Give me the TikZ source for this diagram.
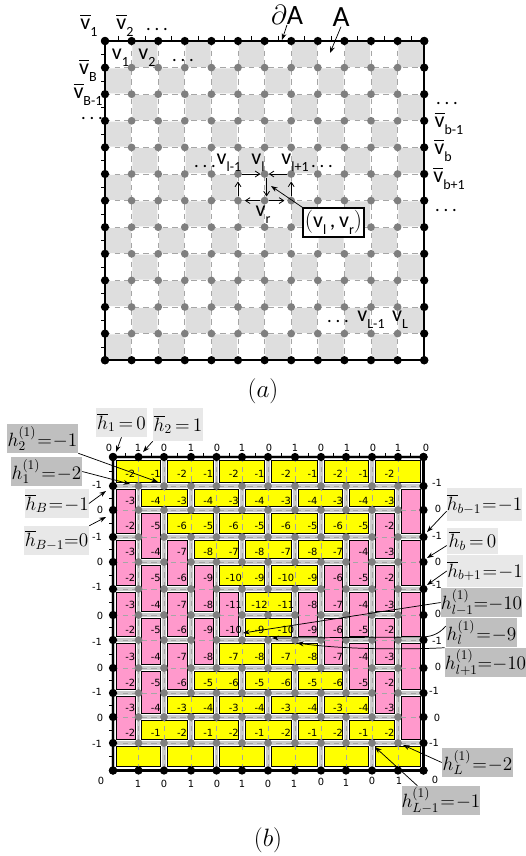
\documentclass[tikz,border=0pt]{standalone}
\usepackage[no-math]{fontspec}
\usetikzlibrary{arrows.meta,calc}
\newfontfamily\carl{Carlito}
\newfontfamily\numf{DejaVu Sans}
\definecolor{cellgray}{HTML}{DEDEDE}
\definecolor{dashgray}{HTML}{A6A6A6}
\definecolor{dotgray}{HTML}{7F7F7F}
\definecolor{bandgray}{HTML}{CBCBCB}
\definecolor{tileyellow}{HTML}{FFFF00}
\definecolor{tilepink}{HTML}{FF99CC}
\definecolor{lablight}{HTML}{E8E8E8}
\definecolor{labdark}{HTML}{BFBFBF}
\newcommand{\ovb}[1]{\makebox[0pt][l]{\raisebox{0.62em}{\rule{0.46em}{0.7pt}}}#1}
\newcommand{\sbs}[1]{\raisebox{-0.3em}{\fontsize{10.5pt}{10.5pt}\selectfont #1}}
\newcommand{\spdots}{.\hspace{0.2em}.\hspace{0.2em}.}
\def\xbarr{{113,138.5,164,191,216.5,242,268,295,321,346,372,398,423.5}}
\def\ybarr{{457,486,510,537,562,589,615,640,668,693,717,743,770.5}}
\def\rowA{-2,-1,-2,-1,-2,-1,-2,-1,-2,-1,-2}
\def\rowB{-3,-4,-3,-4,-3,-4,-3,-4,-3,-4,-3}
\def\rowC{-2,-5,-6,-5,-6,-5,-6,-5,-6,-5,-2}
\def\rowD{-3,-4,-7,-8,-7,-8,-7,-8,-7,-4,-3}
\def\rowE{-2,-5,-6,-9,-10,-9,-10,-9,-6,-5,-2}
\def\rowF{-3,-4,-7,-8,-11,-12,-11,-8,-7,-4,-3}
\tikzset{
  x=0.75pt,y=-0.75pt,
  grayline/.style={draw=dashgray,line width=0.75pt,dash pattern=on 4pt off 3.2pt},
  graydot/.style={circle,fill=dotgray,inner sep=0pt,minimum size=5.8pt},
  blackdot/.style={circle,fill=black,inner sep=0pt,minimum size=6.2pt},
  frameline/.style={line width=1.6pt,line cap=round},
  tickline/.style={line width=0.5pt},
  vlabel/.style={inner sep=0pt,font=\carl\fontsize{16.5pt}{17pt}\selectfont},
  dotsl/.style={inner sep=0pt,font=\carl\fontsize{14pt}{14pt}\selectfont},
  numt/.style={inner sep=0pt,font=\numf\fontsize{7.4pt}{8pt}\selectfont},
  ytile/.style={draw=black,line width=0.75pt,fill=tileyellow},
  ptile/.style={draw=black,line width=0.75pt,fill=tilepink},
  lab/.style n args={2}{inner sep=0pt,minimum width=#1*0.75pt,minimum height=#2*0.75pt,font=\fontsize{14.4pt}{15pt}\selectfont,execute at begin node={\thickmuskip=1mu}},
  wideeq/.style={execute at begin node={\thickmuskip=3mu}},
  tighteq/.style={execute at begin node={\thickmuskip=0mu}},
  lablt/.style={fill=lablight},
  labdk/.style={fill=labdark},
  arr/.style={-{Stealth[length=5pt,width=3.6pt]},line width=0.55pt},
  garr/.style={-{Straight Barb[length=3.4pt,width=4.4pt]},line width=0.6pt},
}
\begin{document}
\begin{tikzpicture}
\useasboundingbox (0,0) rectangle (525,856);
% ---------- (a) ----------
\foreach \i in {0,...,12}{\foreach \j in {0,...,12}{
  \pgfmathsetmacro\xv{105+26.6*\i}\pgfmathsetmacro\yv{41+26.6*\j}
  \coordinate (P-\i-\j) at (\xv,\yv);
}}
\foreach \i in {0,...,11}{\foreach \j in {0,...,11}{
  \pgfmathtruncatemacro\prty{mod(\i+\j,2)}
  \pgfmathtruncatemacro\iu{\i+1}\pgfmathtruncatemacro\ju{\j+1}
  \ifnum\prty=1
    \fill[cellgray,rounded corners=1.2pt] ([shift={(0.8,0.8)}]P-\i-\j) rectangle ([shift={(-0.8,-0.8)}]P-\iu-\ju);
  \fi
}}
\foreach \k in {1,...,11}{
  \draw[grayline] (P-\k-0) -- (P-\k-12);
  \draw[grayline] (P-0-\k) -- (P-12-\k);
}
\foreach \k in {0,...,11}{
  \pgfmathsetmacro\mm{105+26.6*(\k+.5)}\pgfmathsetmacro\nn{41+26.6*(\k+.5)}
  \draw[tickline] (\mm,41) -- (\mm,36.5);
  \draw[tickline] (105,\nn) -- (100.5,\nn);
}
\draw[frameline] (P-0-0) rectangle (P-12-12);
\foreach \i in {1,...,11}{\foreach \j in {1,...,11}{\node[graydot] (A-\i-\j) at (P-\i-\j) {};}}
\foreach \k in {0,...,12}{
  \node[blackdot] (A-\k-0) at (P-\k-0) {};
  \node[blackdot] (A-\k-12) at (P-\k-12) {};
  \node[blackdot] (A-0-\k) at (P-0-\k) {};
  \node[blackdot] (A-12-\k) at (P-12-\k) {};
}
% labels (a)
\node[vlabel] (lv1) at (89,26) {\ovb{v}\sbs{1}};
\node[vlabel] (lv2) at (125,26) {\ovb{v}\sbs{2}};
\node[dotsl] (ld1) at (157,30) {\spdots};
\node[vlabel] (lw1) at (120.5,58) {v\sbs{1}};
\node[vlabel] (lw2) at (147,58) {v\sbs{2}};
\node[dotsl] (ld2) at (183,61) {\spdots};
\node[vlabel] (lvB) at (88,71) {\ovb{v}\sbs{B}};
\node[vlabel] (lvB1) at (88,95) {\ovb{v}\sbs{B-1}};
\node[dotsl] (ld3) at (92,119) {\spdots};
\node[dotsl] (ld4) at (205,167) {\spdots};
\node[vlabel] (llm) at (229,163) {v\sbs{l-1}};
\node[vlabel] (ll) at (258,163) {v\sbs{l}};
\node[vlabel] (llp) at (295,163) {v\sbs{l+1}};
\node[dotsl] (ld5) at (322,167) {\spdots};
\node[vlabel] (lr) at (263,215) {v\sbs{r}};
\node[dotsl] (ld6) at (447,104) {\spdots};
\node[vlabel] (lbm) at (449,124) {\ovb{v}\sbs{b-1}};
\node[vlabel] (lb) at (443,151) {\ovb{v}\sbs{b}};
\node[vlabel] (lbp) at (449,179) {\ovb{v}\sbs{b+1}};
\node[dotsl] (ld7) at (446,211) {\spdots};
\node[dotsl] (ld8) at (338,322) {\spdots};
\node[vlabel] (lLm) at (371,320) {v\sbs{L-1}};
\node[vlabel] (lL) at (400,320) {v\sbs{L}};
\node[inner sep=0pt,font=\fontsize{21pt}{21pt}\selectfont] (da) at (287,15) {$\partial$\carl A};
\node[inner sep=0pt,font=\carl\fontsize{22pt}{22pt}\selectfont] (ba) at (341,17) {A};
\coordinate (da-tip) at (282,40);
\coordinate (ba-tip) at (330,53);
\draw[arr] (da.south) -- (da-tip);
\draw[arr] (ba.south) -- (ba-tip);
\node[draw=black,line width=1.1pt,fill=white,inner sep=0pt,minimum width=45.7pt,minimum height=21.7pt,font=\carl\fontsize{16.5pt}{17pt}\selectfont] (pair) at (333.5,222.5) {$\Bigl($v\sbs{l}\,,\,v\sbs{r}$\Bigr)$};
\coordinate (pair-tip) at (271,186);
\draw[arr] (pair.north west) -- (pair-tip);
\draw[garr] (A-5-5) -- (A-6-5);
\draw[garr] (A-7-5) -- (A-6-5);
\draw[garr] ([xshift=1.5pt]A-6-5.south) -- ([xshift=1.5pt]A-6-6.north);
\draw[garr,shorten >=2.5pt] (A-5-6) -- (A-5-5);
\draw[garr,shorten >=2.5pt] (A-7-6) -- (A-7-5);
\draw[garr,shorten >=2pt] (A-6-6) -- (A-5-6);
\draw[garr,shorten >=2pt] (A-6-6) -- (A-7-6);
\node[inner sep=0pt,scale=1.09,font=\fontsize{17pt}{17pt}\selectfont] (capa) at (263,391) {$(a)$};
% ---------- (b) ----------
\foreach \i in {0,...,12}{\foreach \j in {0,...,12}{
  \pgfmathsetmacro\xv{\xbarr[\i]}\pgfmathsetmacro\yv{\ybarr[\j]}
  \coordinate (Q-\i-\j) at (\xv,\yv);
}}
\foreach \k in {0,...,12}{
  \draw[bandgray,line width=2.6pt] (Q-\k-0) -- (Q-\k-12);
  \draw[bandgray,line width=2.6pt] (Q-0-\k) -- (Q-12-\k);
}
% horizontal yellow tiles: col, row, end col (exclusive)
\foreach \ca/\rw/\cb in {0/0/2,2/0/4,4/0/6,6/0/8,8/0/10,10/0/12,
  1/1/3,3/1/5,5/1/7,7/1/9,9/1/11,
  2/2/4,4/2/6,6/2/8,8/2/10,
  3/3/5,5/3/7,7/3/9,
  4/4/6,6/4/8,
  5/5/7,5/6/7,
  4/7/6,6/7/8,
  3/8/5,5/8/7,7/8/9,
  2/9/4,4/9/6,6/9/8,8/9/10,
  1/10/3,3/10/5,5/10/7,7/10/9,9/10/11,
  0/11/2,2/11/4,4/11/6,6/11/8,8/11/10,10/11/12}{
  \pgfmathtruncatemacro\rb{\rw+1}
  \draw[ytile] ([shift={(3.2,3)}]Q-\ca-\rw) rectangle ([shift={(-3.2,-3.6)}]Q-\cb-\rb);
}
% vertical pink tiles: col, row, end row (exclusive)
\foreach \ca/\rw/\rb in {0/1/3,0/3/5,0/5/7,0/7/9,0/9/11,
  1/2/4,1/4/6,1/6/8,1/8/10,
  2/3/5,2/5/7,2/7/9,
  3/4/6,3/6/8,
  4/5/7,
  7/5/7,
  8/4/6,8/6/8,
  9/3/5,9/5/7,9/7/9,
  10/2/4,10/4/6,10/6/8,10/8/10,
  11/1/3,11/3/5,11/5/7,11/7/9,11/9/11}{
  \pgfmathtruncatemacro\cb{\ca+1}
  \draw[ptile] ([shift={(3.2,3)}]Q-\ca-\rw) rectangle ([shift={(-3.2,-3.2)}]Q-\cb-\rb);
}
\foreach \k in {1,...,11}{
  \draw[grayline] (Q-\k-0) -- (Q-\k-12);
  \draw[grayline] (Q-0-\k) -- (Q-12-\k);
}
\foreach \k in {0,...,11}{
  \pgfmathsetmacro\mm{0.5*(\xbarr[\k]+\xbarr[\k+1])}\pgfmathsetmacro\nn{0.5*(\ybarr[\k]+\ybarr[\k+1])}
  \draw[tickline] (\mm,457) -- (\mm,452.5);
  \draw[tickline] (113,\nn) -- (108.5,\nn);
}
\draw[frameline] (Q-0-0) rectangle (Q-12-12);
\foreach \rr/\vals in {0/\rowA,1/\rowB,2/\rowC,3/\rowD,4/\rowE,5/\rowF,6/\rowE,7/\rowD,8/\rowC,9/\rowB,10/\rowA}{
  \edef\valsx{\vals}
  \foreach \n [count=\cc from 0] in \valsx {
    \pgfmathsetmacro\nx{0.5*(\xbarr[\cc]+\xbarr[\cc+1])+4.5}
    \pgfmathsetmacro\ny{0.5*(\ybarr[\rr]+\ybarr[\rr+1])+2.5}
    \node[numt] (num-\rr-\cc) at (\nx,\ny) {\n};
  }
}
\foreach \i in {1,...,11}{\foreach \j in {1,...,11}{\node[graydot] (B-\i-\j) at (Q-\i-\j) {};}}
\foreach \k in {0,...,12}{
  \node[blackdot] (B-\k-0) at (Q-\k-0) {};
  \node[blackdot] (B-\k-12) at (Q-\k-12) {};
  \node[blackdot] (B-0-\k) at (Q-0-\k) {};
  \node[blackdot] (B-12-\k) at (Q-12-\k) {};
}
% boundary numbers
\foreach \x/\y/\t [count=\q] in {109/448/0,138/448/1,164/448/0,191/448/1,217/448/0,242/448/1,269/448/0,295/448/1,321/448/0,347/448/1,373/448/0,398/448/1,426/448/0,
  97/485/-1,100/510/0,97/537/-1,100/562/0,97/587/-1,100/616/0,97/642/-1,100/668/0,97/692/-1,100/718/0,97/744/-1,
  101/781/0,138/784/1,164/784/0,191/784/1,217/784/0,242/784/1,268/784/0,294/784/1,321/782/0,346/783/1,372/781/0,399/781/1,435/780/0,
  437/483/-1,438/509/0,437/536/-1,438/562/0,437/585/-1,438/614/0,437/641/-1,438/667/0,434/691/-1,437/718/0,434/743/-1}{
  \node[numt] (bn\q) at (\x,\y) {\t};
}
% labels (b)
\node[lab={51}{29},lablt,wideeq] (bar1) at (121.5,422.5) {$\overline{h}_1=0$};
\node[lab={50}{33},lablt,wideeq] (bar2) at (178,424.5) {$\overline{h}_2=1$};
\node[lab={71}{29},labdk] (h2) at (42.5,438.5) {$h_2^{(1)}=-1$};
\node[lab={71}{29},labdk] (h1) at (46.5,471.5) {$h_1^{(1)}=-2$};
\node[lab={62}{29},lablt] (barB) at (57,503.5) {$\overline{h}_B=-1$};
\node[lab={65}{29},lablt,tighteq] (barB1) at (56.5,540.5) {$\overline{h}_{B-1}=0$};
\node[lab={75}{33},lablt] (barb1) at (484.5,504.5) {$\overline{h}_{b-1}=-1$};
\node[lab={51}{26},lablt,wideeq] (barb) at (472.5,541) {$\overline{h}_b=0$};
\node[lab={76}{32},lablt] (barb2) at (485,571) {$\overline{h}_{b+1}=-1$};
\node[lab={81}{29},labdk,tighteq] (hl1) at (481.5,602.5) {$h_{l-1}^{(1)}=-10$};
\node[lab={71}{29},labdk] (hl) at (481.5,632.5) {$h_{l}^{(1)}=-9$};
\node[lab={77}{29},labdk,tighteq] (hl2) at (485.5,662.5) {$h_{l+1}^{(1)}=-10$};
\node[lab={71}{29},labdk] (hL) at (477.5,762.5) {$h_{L}^{(1)}=-2$};
\node[lab={72}{29},labdk] (hL1) at (441,800.5) {$h_{L-1}^{(1)}=-1$};
\foreach \nm/\xx/\yy in {t-bar1/116/452,t-bar2/143/452,t-h2/158/482,t-h1/130/484,t-barB/106/491,t-barB1/106/517,
  t-barb1/427/532,t-barb/427/558,t-barb2/427/585,t-hl1/243/633,t-hl/272/638,t-hl2/297/643,t-hL/403/745,t-hL1/375/747}{
  \coordinate (\nm) at (\xx,\yy);
}
\draw[arr] (bar1.south) -- (t-bar1);
\draw[arr] (bar2.south west) -- (t-bar2);
\draw[arr] (h2.south east) -- (t-h2);
\draw[arr] (h1.east) -- (t-h1);
\draw[arr] (barB.east) -- (t-barB);
\draw[arr] (barB1.north east) -- (t-barB1);
\draw[arr] (barb1.-170) -- (t-barb1);
\draw[arr] (barb.-170) -- (t-barb);
\draw[arr] (barb2.west) -- (t-barb2);
\draw[arr] (hl1.west) -- (t-hl1);
\draw[arr] (hl.170) .. controls (438,635) and (430,637) .. (420,637) -- (t-hl);
\draw[arr] (hl2.north west) .. controls (400,650) and (340,649) .. (t-hl2);
\draw[arr] (hL.west) -- (t-hL);
\draw[arr] ([xshift=12pt]hL1.north west) -- (t-hL1);
\node[inner sep=0pt,scale=1.09,font=\fontsize{17pt}{17pt}\selectfont] (capb) at (268,840) {$(b)$};
\end{tikzpicture}
\end{document}
